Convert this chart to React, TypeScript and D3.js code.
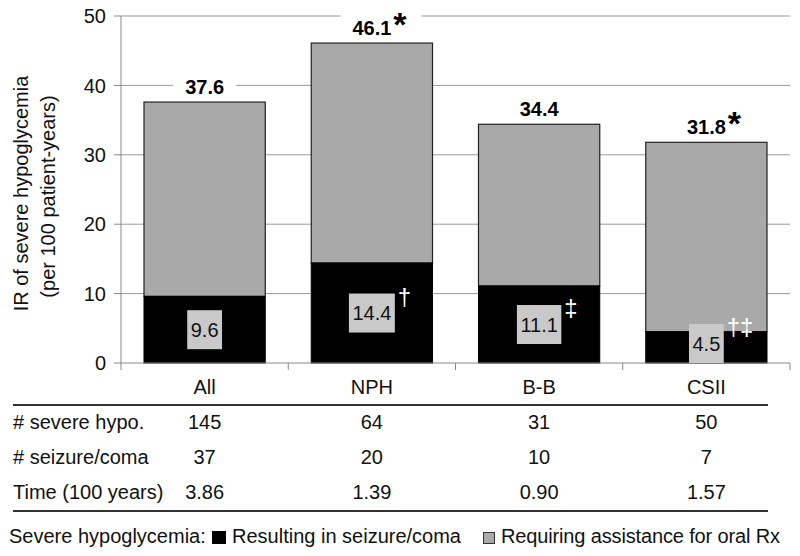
import React, { useMemo } from "react";
import * as d3 from "d3";

const categories = ["All", "NPH", "B-B", "CSII"];
const totalRate = [37.6, 46.1, 34.4, 31.8];
const seizureRate = [9.6, 14.4, 11.1, 4.5];
const totalStar = [false, true, false, true];
const seizureMark = ["", "†", "‡", "†‡"];
const yTicks = [0, 10, 20, 30, 40, 50];

const rowLabels = ["# severe hypo.", "# seizure/coma", "Time (100 years)"];
const severeHypo = ["145", "64", "31", "50"];
const seizureComa = ["37", "20", "10", "7"];
const timeYears = ["3.86", "1.39", "0.90", "1.57"];

const FONT = "'Liberation Sans', Arial, Helvetica, sans-serif";

function measure(text: string, size: number, bold = false): number {
  const c = document.createElement("canvas");
  const ctx = c.getContext("2d");
  if (!ctx) return text.length * size * 0.55;
  ctx.font = `${bold ? "bold " : ""}${size}px 'Liberation Sans', Arial, sans-serif`;
  return ctx.measureText(text).width;
}

export default function App() {
  const W = 800;
  const H = 556;
  const x = d3
    .scaleBand<string>()
    .domain(categories)
    .range([121, 790])
    .paddingInner(0.275)
    .paddingOuter(0.1375);
  const y = d3.scaleLinear().domain([0, 50]).range([363, 16]);
  const step = x.step();
  const bounds = d3.range(categories.length + 1).map((i) => 121 + i * step);

  const tableRows = [severeHypo, seizureComa, timeYears];
  const rowBase = [429, 464, 499];

  const widths = useMemo(
    () => ({
      inner: seizureRate.map((v) => measure(v.toFixed(1), 20)),
      total: totalRate.map((v) => measure(v.toFixed(1), 20, true)),
    }),
    []
  );

  return (
    <svg
      width={W}
      height={H}
      style={{ position: "absolute", left: 0, top: 0, background: "#fff" }}
      fontFamily={FONT}
    >
      <rect x={0} y={0} width={W} height={H} fill="#fff" />
      {/* gridlines */}
      {yTicks
        .filter((t) => t > 0)
        .map((t) => (
          <line key={t} x1={121} x2={790} y1={y(t)} y2={y(t)} stroke="#9a9a9a" strokeWidth={1} />
        ))}
      {/* y ticks and labels */}
      {yTicks.map((t) => (
        <g key={"yt" + t}>
          <line x1={114} x2={121} y1={y(t)} y2={y(t)} stroke="#888" />
          <text x={106} y={y(t)} dy="0.36em" textAnchor="end" fontSize={20} fill="#111">
            {t}
          </text>
        </g>
      ))}
      <line x1={121} x2={121} y1={y(50)} y2={y(0)} stroke="#888" />
      {/* y title */}
      <text
        transform={`translate(27.5,${(y(0) + y(50)) / 2 + 4}) rotate(-90)`}
        textAnchor="middle"
        fontSize={20}
        fill="#111"
      >
        IR of severe hypoglycemia
      </text>
      <text
        transform={`translate(55,${(y(0) + y(50)) / 2 + 7}) rotate(-90)`}
        textAnchor="middle"
        fontSize={20}
        fill="#111"
      >
        (per 100 patient-years)
      </text>

      {/* total labels with white backgrounds */}
      {categories.map((c, i) => {
        const cx = (x(c) as number) + x.bandwidth() / 2;
        const base = y(totalRate[i]) - 8;
        const tw = widths.total[i];
        const extra = totalStar[i] ? 18 : 0;
        return (
          <g key={"tot" + c}>
            <rect
              x={cx - tw / 2 - 12}
              y={base - 22}
              width={tw + 24 + extra}
              height={25}
              fill="#fff"
            />
            <text x={cx} y={base} textAnchor="middle" fontSize={20} fontWeight="bold" fill="#000">
              {totalRate[i].toFixed(1)}
            </text>
            {totalStar[i] && (
              <text x={cx + tw / 2 + 2} y={base + 1} fontSize={34} fontWeight="bold" fill="#000">
                *
              </text>
            )}
          </g>
        );
      })}

      {/* bars */}
      {categories.map((c, i) => {
        const bx = x(c) as number;
        const bw = x.bandwidth();
        return (
          <g key={"bar" + c}>
            <rect
              x={bx}
              y={y(totalRate[i])}
              width={bw}
              height={y(seizureRate[i]) - y(totalRate[i])}
              fill="#a9a9a9"
              stroke="#222"
              strokeWidth={1.2}
            />
            <rect
              x={bx}
              y={y(seizureRate[i])}
              width={bw}
              height={y(0) - y(seizureRate[i])}
              fill="#000"
              stroke="#000"
              strokeWidth={1}
            />
          </g>
        );
      })}

      {/* bottom axis */}
      <line x1={121} x2={790} y1={y(0)} y2={y(0)} stroke="#888" />
      {bounds.map((b, i) => (
        <line key={"xt" + i} x1={b} x2={b} y1={y(0)} y2={y(0) + 7} stroke="#888" />
      ))}

      {/* inner value boxes */}
      {categories.map((c, i) => {
        const cx = (x(c) as number) + x.bandwidth() / 2;
        const bh = 39;
        const tw = widths.inner[i];
        const bwid = tw + 7;
        const segMid = (y(0) + y(seizureRate[i])) / 2;
        const cy = Math.min(segMid, y(0) - bh / 2);
        const top = cy - bh / 2;
        const right = cx + bwid / 2;
        return (
          <g key={"in" + c}>
            <rect x={cx - bwid / 2} y={top} width={bwid} height={bh} fill="#c9c9c9" />
            <text x={cx} y={cy} dy="0.36em" textAnchor="middle" fontSize={20} fill="#111">
              {seizureRate[i].toFixed(1)}
            </text>
            {seizureMark[i] && (
              <text x={right + 3} y={top + 11} fontSize={24} fill="#fff">
                {seizureMark[i]}
              </text>
            )}
          </g>
        );
      })}

      {/* category labels */}
      {categories.map((c) => (
        <text
          key={"cl" + c}
          x={(x(c) as number) + x.bandwidth() / 2}
          y={394}
          textAnchor="middle"
          fontSize={20}
          fill="#111"
        >
          {c}
        </text>
      ))}

      {/* table */}
      <line x1={13} x2={768} y1={405} y2={405} stroke="#333" strokeWidth={2} />
      <line x1={13} x2={768} y1={511} y2={511} stroke="#333" strokeWidth={2} />
      {rowLabels.map((r, ri) => (
        <g key={"row" + ri}>
          <text x={13} y={rowBase[ri]} fontSize={20} fill="#111">
            {r}
          </text>
          {categories.map((c, ci) => (
            <text
              key={c}
              x={(x(c) as number) + x.bandwidth() / 2}
              y={rowBase[ri]}
              textAnchor="middle"
              fontSize={20}
              fill="#111"
            >
              {tableRows[ri][ci]}
            </text>
          ))}
        </g>
      ))}

      {/* legend */}
      <text x={9} y={543} fontSize={20} fill="#111">
        Severe hypoglycemia:
      </text>
      <rect x={212} y={531} width={14} height={13} fill="#000" />
      <text x={232} y={543} fontSize={20} fill="#111">
        Resulting in seizure/coma
      </text>
      <rect x={483.5} y={532.5} width={11} height={11} fill="#a9a9a9" stroke="#333" strokeWidth={1} />
      <text x={501} y={543} fontSize={20} fill="#111" textLength={279} lengthAdjust="spacing">
        Requiring assistance for oral Rx
      </text>
    </svg>
  );
}
